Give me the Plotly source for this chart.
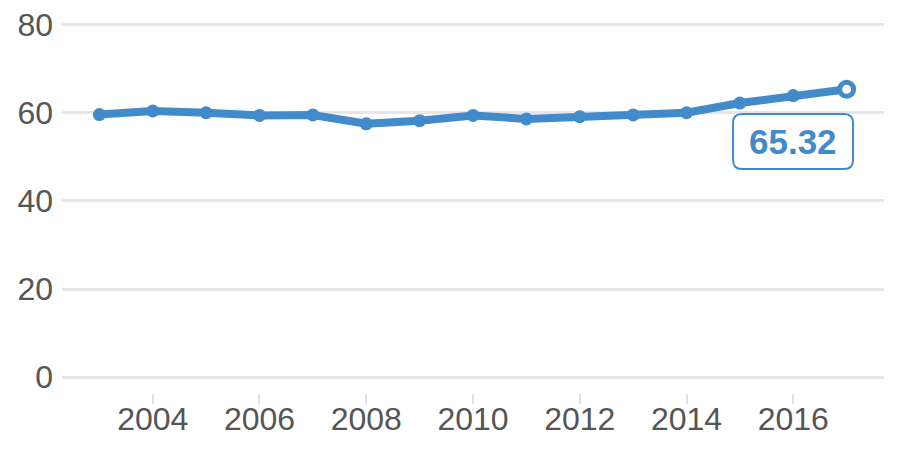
import plotly.graph_objects as go

years = [2003, 2004, 2005, 2006, 2007, 2008, 2009, 2010, 2011, 2012, 2013, 2014, 2015, 2016, 2017]
values = [59.6, 60.4, 60.0, 59.4, 59.5, 57.5, 58.2, 59.4, 58.6, 59.1, 59.5, 60.0, 62.2, 63.9, 65.32]
y_ticks = [0, 20, 40, 60, 80]
x_ticks = [2004, 2006, 2008, 2010, 2012, 2014, 2016]

BLUE = "#428bca"
FONT = "Liberation Sans, Arial, sans-serif"

fig = go.Figure()
fig.add_trace(go.Scatter(
    x=years, y=values, mode="lines+markers",
    line=dict(color=BLUE, width=8),
    marker=dict(size=13, color=BLUE, opacity=1, line=dict(width=0)),
    hoverinfo="x+y", showlegend=False,
))
fig.add_trace(go.Scatter(
    x=years[-1:], y=values[-1:], mode="markers",
    marker=dict(size=14, color="white", opacity=1, line=dict(color=BLUE, width=5)),
    hoverinfo="x+y", showlegend=False,
))

# rounded label box, sized in pixels, anchored at the last point
L, R, T, B, r = -113.6, 6.4, -24.7, -79.7, 9
path = (f"M {L+r},{T} L {R-r},{T} Q {R},{T} {R},{T-r} L {R},{B+r} Q {R},{B} {R-r},{B} "
        f"L {L+r},{B} Q {L},{B} {L},{B+r} L {L},{T-r} Q {L},{T} {L+r},{T} Z")
fig.add_shape(
    type="path", path=path, xref="x", yref="y",
    xsizemode="pixel", ysizemode="pixel", xanchor=years[-1], yanchor=values[-1],
    line=dict(color=BLUE, width=2), fillcolor="white", layer="above",
)
fig.add_annotation(
    x=years[-1], y=values[-1], xref="x", yref="y",
    text="<b>%.2f</b>" % values[-1], showarrow=False,
    xshift=(L + R) / 2, yshift=(T + B) / 2,
    font=dict(family=FONT, size=35, color=BLUE),
)

# the page body adds an 8px margin around the figure
fig.update_layout(
    width=884, height=434,
    margin=dict(l=54, r=8, t=14, b=49, autoexpand=False),
    paper_bgcolor="white", plot_bgcolor="white",
    font=dict(family=FONT, size=32, color="#555555"),
    xaxis=dict(
        range=[2002.3, 2017.7], tickvals=x_ticks, ticks="outside", ticklen=10,
        tickwidth=2, tickcolor="#e0e0e0", showgrid=False, zeroline=False,
        showline=False, automargin=False, ticklabelstandoff=-12,
        ticklabeloverflow="allow", tickfont=dict(size=32, color="#555555"),
    ),
    yaxis=dict(
        range=[-3.6, 80.6], tickvals=y_ticks, showgrid=True, gridcolor="#e6e6e6",
        gridwidth=3, zeroline=False, showline=False, ticks="", automargin=False,
        ticklabelstandoff=8, ticklabeloverflow="allow",
        tickfont=dict(size=32, color="#555555"),
    ),
)

fig.write_html("out.html")
